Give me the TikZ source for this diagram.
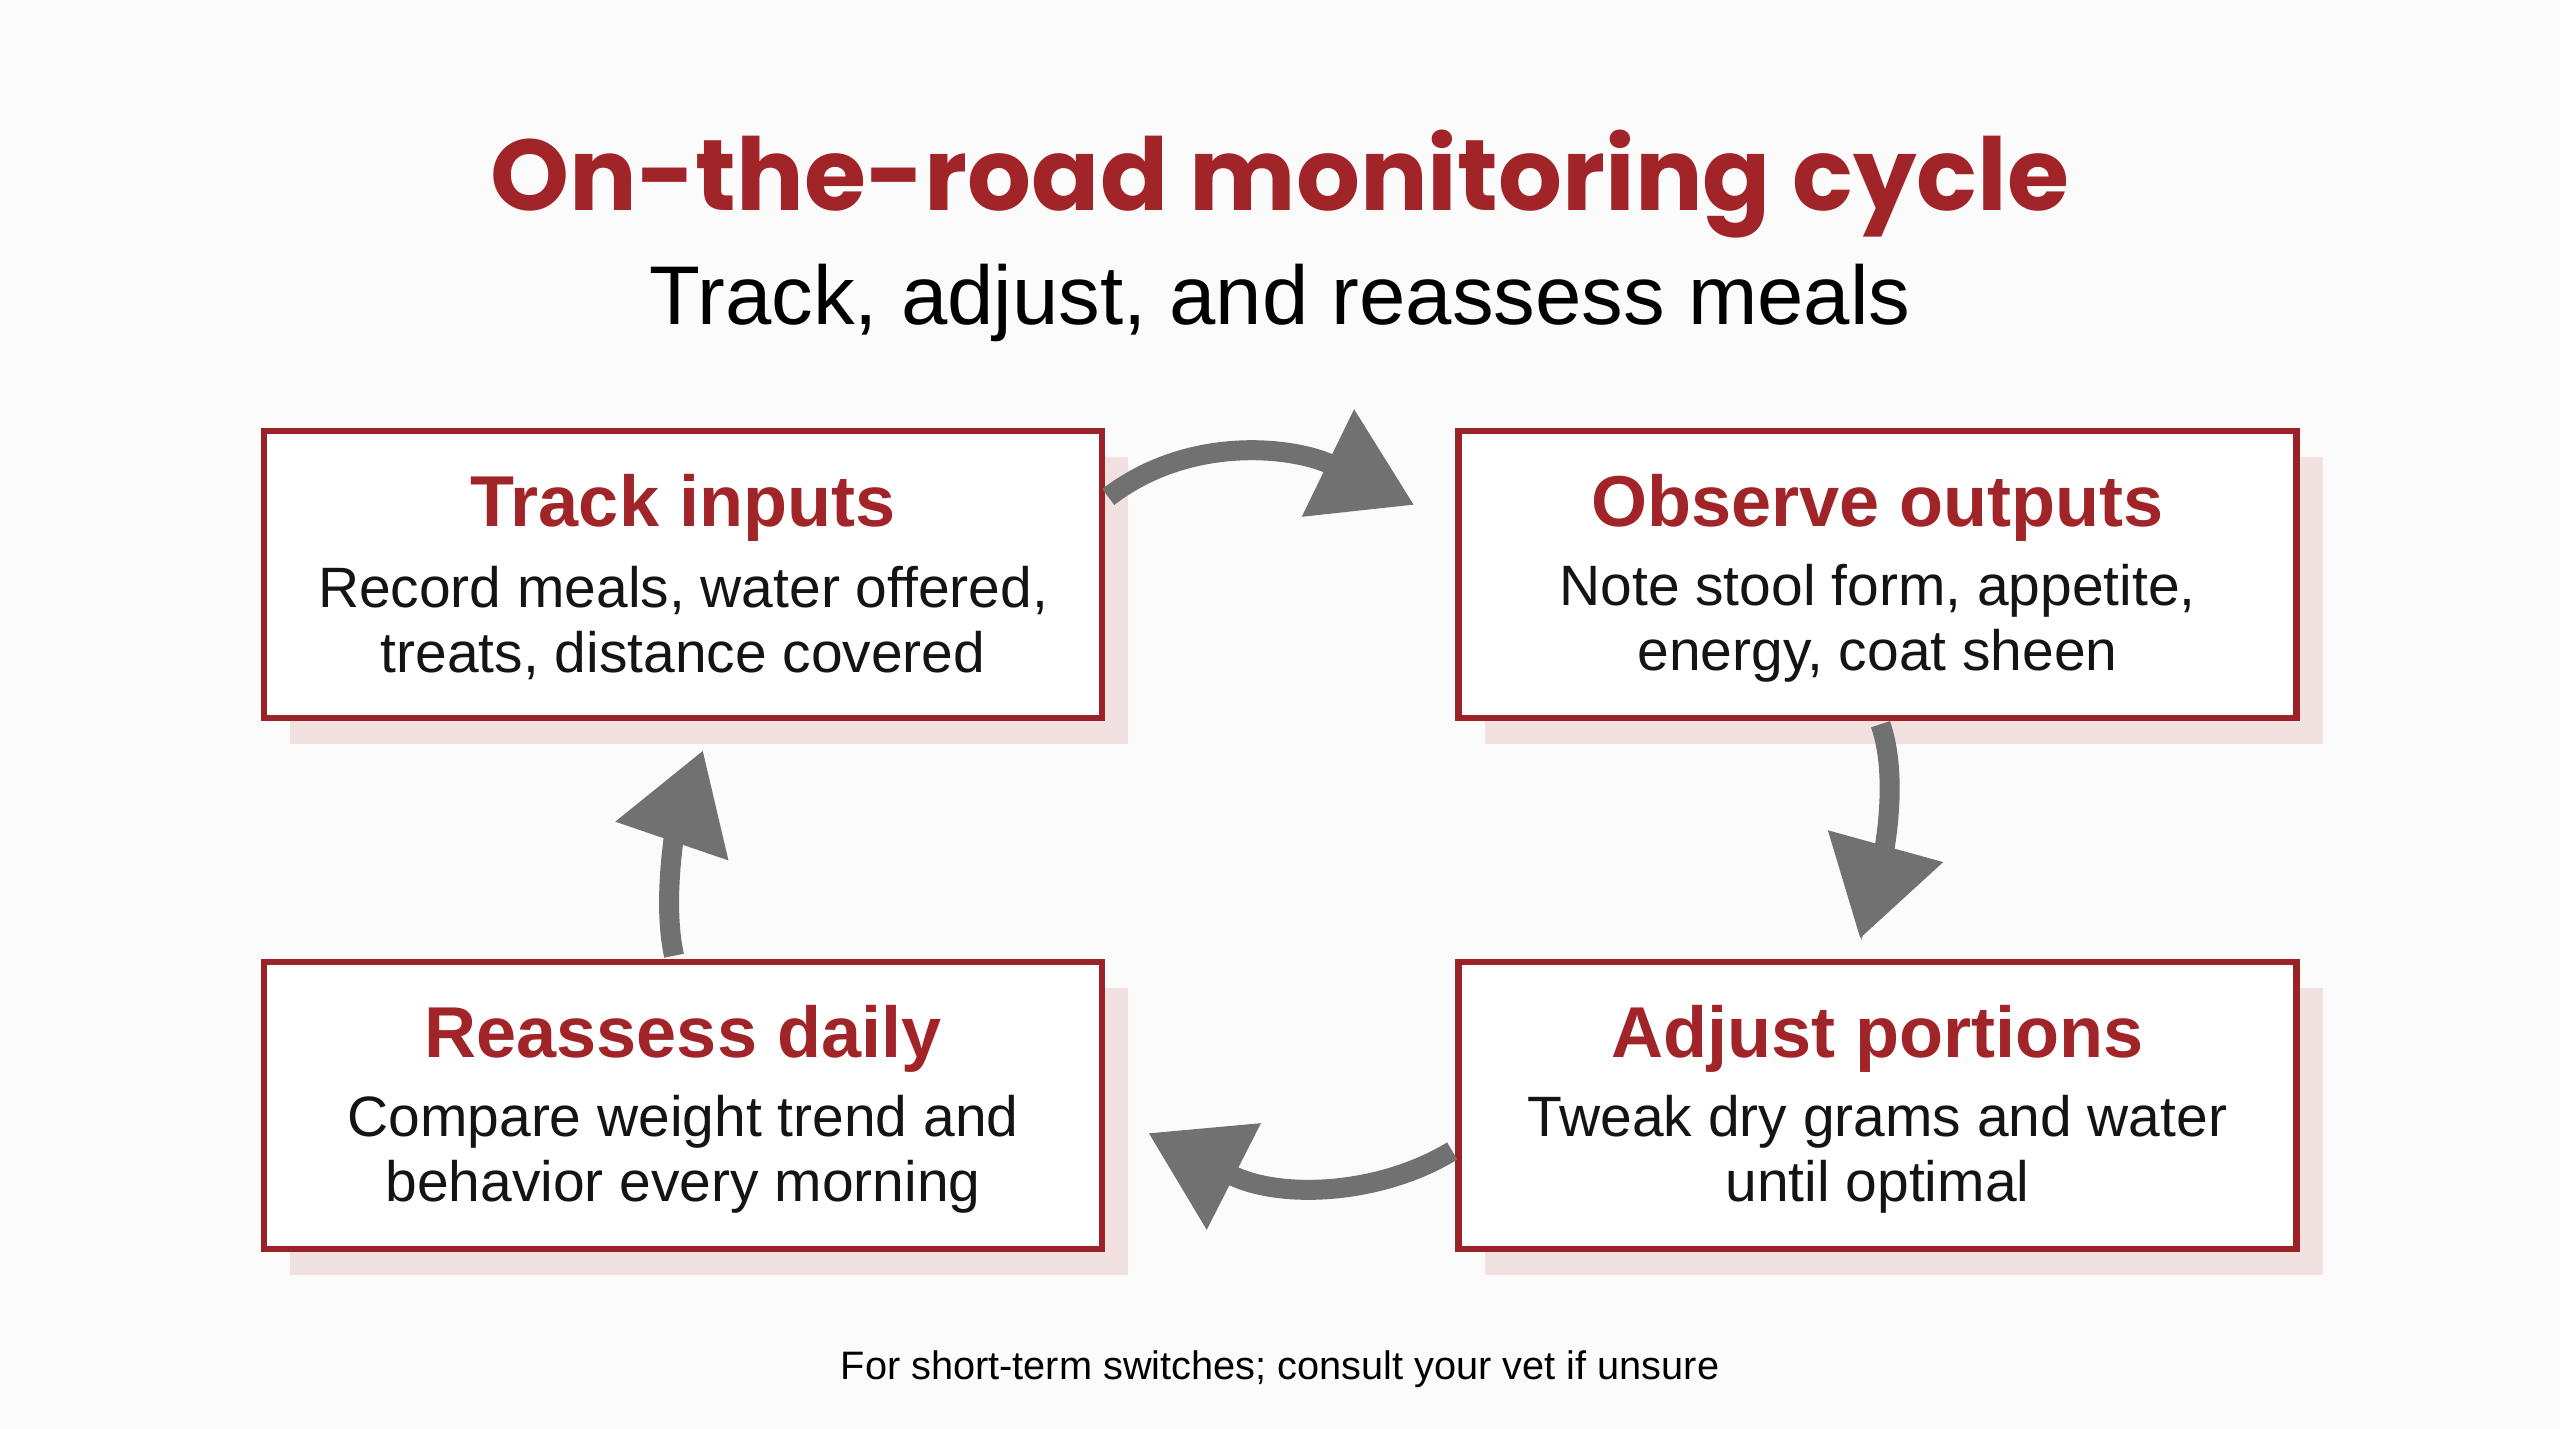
\documentclass[tikz,border=0pt]{standalone}
\usepackage{fontspec}
\setmainfont{Liberation Sans}
\newfontfamily\headfont{Poppins}
\usepackage{tikz}
\usetikzlibrary{
  arrows.meta,
  positioning,
  calc,
  shadows
}
\definecolor{cycred}{HTML}{9B2226}
\definecolor{headred}{HTML}{A12428}
\definecolor{shadowpink}{HTML}{F2E1E1}
\definecolor{arrowgray}{HTML}{717171}
\definecolor{pagebg}{HTML}{FBFBFB}

\begin{document}
\begin{tikzpicture}[
      stage/.style={draw=cycred, line width=0.065cm, fill=white,
                    minimum width=8.38cm, minimum height=2.87cm,
                    drop shadow={shadow xshift=0.26cm, shadow yshift=-0.26cm,
                                 fill=shadowpink, opacity=1}},
      stagetitle/.style={font=\fontsize{20.5}{24}\selectfont\bfseries, text=headred},
      stagetext/.style={font=\fontsize{16.2}{18.5}\selectfont, align=center, text=black!92},
      cyclearrow/.style={-{Triangle[length=0.96cm, width=1.14cm]},
                         line width=0.20cm, draw=arrowgray}
  ]
      % Page
      \fill[pagebg] (0,0) rectangle (25.6,14.29);
      \useasboundingbox (0,0) rectangle (25.6,14.29);

      % Heading
      \node[font=\headfont\bfseries\fontsize{28.6}{34}\selectfont, text=headred]
            (title) at (12.8,12.45) {On-the-road monitoring cycle};
      \node[font=\fontsize{23.7}{28}\selectfont] (subtitle) at (12.8,11.26)
            {Track, adjust, and reassess meals};

      % The four stages of the cycle
      \node[stage] (track)    at (6.83,8.545)   {};
      \node[stage] (observe)  at (18.775,8.545) {};
      \node[stage] (adjust)   at (18.775,3.235) {};
      \node[stage] (reassess) at (6.83,3.235)   {};

      \node[stagetitle] (track-t) at ($(track.north)+(0,-0.80)$) {Track inputs};
      \node[stagetext]  (track-d) at ($(track.center)+(0,-0.49)$)
            {Record meals, water offered,\\treats, distance covered};

      \node[stagetitle] (observe-t) at ($(observe.north)+(0,-0.80)$) {Observe outputs};
      \node[stagetext]  (observe-d) at ($(observe.center)+(0,-0.49)$)
            {Note stool form, appetite,\\energy, coat sheen};

      \node[stagetitle] (adjust-t) at ($(adjust.north)+(0,-0.80)$) {Adjust portions};
      \node[stagetext]  (adjust-d) at ($(adjust.center)+(0,-0.49)$)
            {Tweak dry grams and water\\until optimal};

      \node[stagetitle] (reassess-t) at ($(reassess.north)+(0,-0.80)$) {Reassess daily};
      \node[stagetext]  (reassess-d) at ($(reassess.center)+(0,-0.49)$)
            {Compare weight trend and\\behavior every morning};

      % Arrow tips just short of the next stage
      \coordinate (tip1) at ($(observe.west)+(-0.41,0.695)$);
      \coordinate (tip2) at ($(adjust.north)+(-0.175,0.20)$);
      \coordinate (tip3) at ($(reassess.east)+(0.43,-0.275)$);
      \coordinate (tip4) at ($(track.south)+(0.20,-0.29)$);

      % Cycle arrows
      \draw[cyclearrow] ($(track.east)+(0.03,0.775)$)
            .. controls (11.9,9.95) and (12.95,9.82) .. (tip1);
      \draw[cyclearrow] ($(observe.south)+(0.03,-0.03)$)
            .. controls (19.0,6.49) and (18.82,5.70) .. (tip2);
      \draw[cyclearrow] ($(adjust.west)+(-0.03,-0.455)$)
            .. controls (13.80,2.34) and (12.80,2.29) .. (tip3);
      \draw[cyclearrow] ($(reassess.north)+(-0.09,0.03)$)
            .. controls (6.62,5.29) and (6.76,6.00) .. (tip4);

      % Footnote
      \node[font=\fontsize{11.3}{13}\selectfont] (note) at (12.8,0.60)
            {For short-term switches; consult your vet if unsure};
  \end{tikzpicture}
\end{document}
